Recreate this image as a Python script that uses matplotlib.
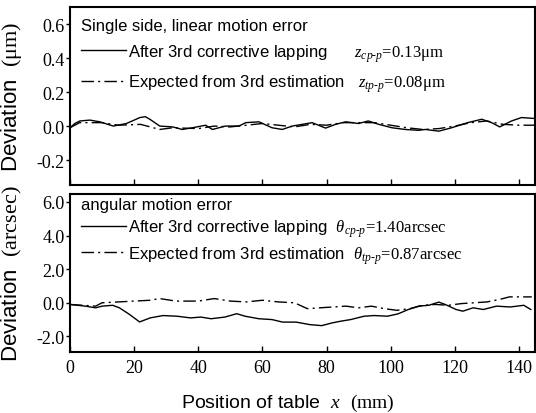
import matplotlib
matplotlib.use("Agg")
import matplotlib.pyplot as plt
from matplotlib.ticker import FormatStrFormatter

# linear motion error (um) - after 3rd corrective lapping
lin_meas_x = [0, 1.5, 3.1, 6.2, 9.3, 13.5, 17.6, 21.8, 23.5, 24.9, 28, 32, 35, 38.2, 42.3,
              44.4, 48.5, 52.7, 54.8, 58.9, 63, 66.2, 69.3, 75.5, 79.7, 82.8, 86, 90,
              93, 96.3, 100.4, 104.5, 108.7, 110.8, 115, 119, 124, 128.4, 131.5, 134,
              137.7, 140.8, 144.5]
lin_meas_y = [-0.01, 0.015, 0.03, 0.035, 0.025, 0.0, 0.015, 0.05, 0.055, 0.04, 0.0, -0.005,
              -0.02, -0.01, 0.005, -0.02, 0.0, 0.0, 0.02, 0.025, -0.01, -0.02, 0.0, 0.02,
              -0.012, 0.01, 0.025, 0.015, 0.03, 0.01, -0.01, -0.02, -0.025, -0.02, -0.03,
              -0.01, 0.02, 0.04, 0.02, -0.005, 0.03, 0.05, 0.045]

# linear motion error (um) - expected from 3rd estimation
lin_est_x = [0, 3, 10, 15, 22, 28, 32, 40, 45, 50, 55, 60, 65, 70, 75, 80, 85, 90, 95,
             100, 105, 110, 115, 120, 125, 130, 135, 140, 145]
lin_est_y = [-0.01, 0.02, 0.02, 0.005, 0.01, -0.02, -0.01, -0.015, 0.0, -0.005, 0.005,
             0.015, 0.005, -0.005, 0.01, 0.005, 0.02, 0.02, 0.02, 0.005, -0.01, -0.02,
             -0.015, 0.0, 0.02, 0.03, 0.01, 0.005, 0.005]

# angular motion error (arcsec) - after 3rd corrective lapping
ang_meas_x = [0, 4.8, 8, 10, 13.3, 15.4, 18.6, 21.7, 25, 29, 33.4, 37.6, 40.8, 44, 48.3,
              52, 54.6, 58.9, 63, 66.3, 70.5, 74.8, 78.5, 81.7, 84.3, 87.5, 91.7, 94.9,
              99, 102.3, 105.5, 108.7, 111.9, 115, 117, 120.4, 122.5, 125.7, 128.9, 133,
              137.3, 141.5, 143.7]
ang_meas_y = [-0.1, -0.2, -0.3, -0.2, -0.15, -0.3, -0.7, -1.14, -0.9, -0.76, -0.8, -0.9,
              -0.85, -0.95, -0.85, -0.65, -0.8, -0.95, -1.0, -1.15, -1.15, -1.3, -1.36,
              -1.2, -1.1, -1.0, -0.8, -0.76, -0.8, -0.66, -0.4, -0.2, -0.15, 0.04, -0.1,
              -0.4, -0.5, -0.3, -0.4, -0.2, -0.25, -0.15, -0.4]

# angular motion error (arcsec) - expected from 3rd estimation
ang_est_x = [0, 8, 10, 15, 20, 25, 28, 33, 40, 45, 50, 55, 60, 65, 70, 74, 78, 82, 86,
             90, 94, 98, 102, 106, 110, 114, 118, 122, 126, 130, 134, 137, 140, 144]
ang_est_y = [-0.1, -0.2, 0.0, 0.05, 0.1, 0.15, 0.25, 0.1, 0.1, 0.25, 0.1, 0.05, 0.15,
             0.05, 0.0, -0.35, -0.3, -0.25, -0.2, -0.3, -0.2, -0.35, -0.45, -0.35,
             -0.15, -0.1, -0.15, -0.05, 0.0, 0.05, 0.2, 0.35, 0.35, 0.35]

X_TICKS = [0, 20, 40, 60, 80, 100, 120, 140]
LIN_TICKS = [-0.2, 0.0, 0.2, 0.4, 0.6]
ANG_TICKS = [-2.0, 0.0, 2.0, 4.0, 6.0]

plt.rcParams['font.family'] = ['Liberation Sans', 'DejaVu Sans']
plt.rcParams['mathtext.fontset'] = 'custom'
plt.rcParams['mathtext.rm'] = 'Liberation Serif'
plt.rcParams['mathtext.it'] = 'Liberation Serif:italic'
plt.rcParams['axes.unicode_minus'] = False

DASHDOT = (0, (9, 3, 1.5, 3))


def style_axis(ax, yticks, ylim, ylabel):
    ax.set_xlim(0, 145)
    ax.set_ylim(*ylim)
    ax.set_xticks(X_TICKS)
    ax.set_yticks(yticks)
    ax.yaxis.set_major_formatter(FormatStrFormatter('%.1f'))
    ax.tick_params(axis='x', direction='in', length=4, width=1)
    ax.tick_params(axis='y', direction='out', length=3, width=1, pad=1)
    for lab in ax.get_xticklabels() + ax.get_yticklabels():
        lab.set_fontfamily('Liberation Serif')
        lab.set_fontsize(13)
    for sp in ax.spines.values():
        sp.set_linewidth(1.5)
    ax.set_ylabel(ylabel, fontsize=16)
    ax.yaxis.set_label_coords(-0.098, 0.5)


fig = plt.figure(figsize=(5.36, 4.14), dpi=100)
ax1 = fig.add_axes([0.1306, 0.5514, 0.8675, 0.4292])
ax2 = fig.add_axes([0.1306, 0.1473, 0.8675, 0.3816])

ax1.plot(lin_meas_x, lin_meas_y, color='black', lw=1.0,
         label=r'After 3rd corrective lapping      $z_{cp\text{-}p}\text{=0.13μm}$')
ax1.plot(lin_est_x, lin_est_y, color='black', lw=1.0, linestyle=DASHDOT,
         label=r'Expected from 3rd estimation   $z_{tp\text{-}p}\text{=0.08μm}$')
style_axis(ax1, LIN_TICKS, (-0.345, 0.7), r'Deviation  $\mathrm{(μm)}$')
ax1.tick_params(axis='x', labelbottom=False)

ax2.plot(ang_meas_x, ang_meas_y, color='black', lw=1.0,
         label=r'After 3rd corrective lapping  $\theta_{cp\text{-}p}\text{=1.40arcsec}$')
ax2.plot(ang_est_x, ang_est_y, color='black', lw=1.0, linestyle=DASHDOT,
         label=r'Expected from 3rd estimation  $\theta_{tp\text{-}p}\text{=0.87arcsec}$')
style_axis(ax2, ANG_TICKS, (-2.93, 6.47), r'Deviation  $\mathrm{(arcsec)}$')
ax2.tick_params(axis='x', pad=5)
ax2.set_xlabel(r'Position of table  $x$  $\mathrm{(mm)}$', fontsize=14)
ax2.xaxis.set_label_coords(0.468, -0.255)

ax1.legend(title='Single side, linear motion error', loc='upper left', frameon=False,
           fontsize=12, title_fontsize=12, alignment='left', handlelength=2.7,
           handletextpad=0.15, labelspacing=0.55, borderaxespad=0.45, borderpad=0.2)
ax2.legend(title='angular motion error', loc='upper left', bbox_to_anchor=(0.016, 1.0),
           frameon=False, fontsize=12, title_fontsize=12, alignment='left',
           handlelength=2.7, handletextpad=0.15, labelspacing=0.3, borderaxespad=0,
           borderpad=0.2)

fig.savefig('out.png', dpi=100)
